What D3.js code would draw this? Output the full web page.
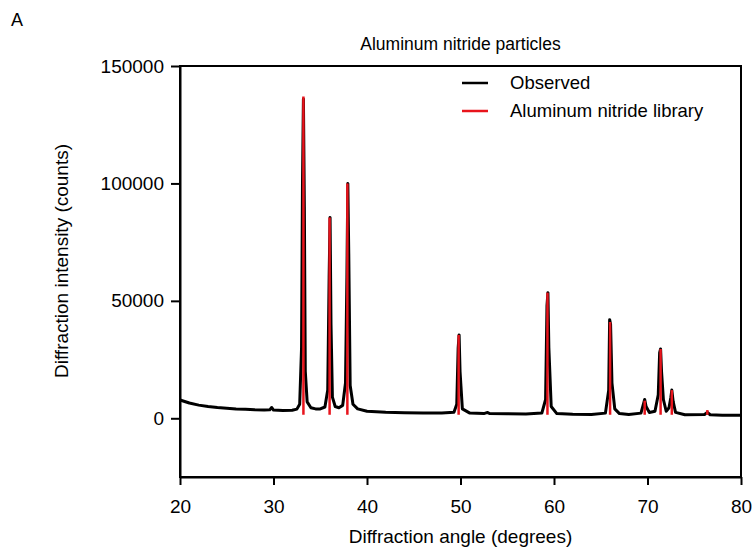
<!DOCTYPE html>
<html>
<head>
<meta charset="utf-8">
<script src="https://cdn.jsdelivr.net/npm/d3@7"></script>
<style>
	body { margin: 0; background: #fff; }
	text { font-family: "Liberation Sans", Arial, sans-serif; fill: #000; }
</style>
</head>
<body>
<div id="chart"></div>
<script>
// Data
const obsAngle = [
	20, 21, 22, 23, 24, 25, 26, 27, 28, 29, 29.6, 29.8, 30, 31, 32, 32.5, 32.8,
	33.0, 33.1, 33.2, 33.3, 33.4, 33.6, 34, 34.5, 35, 35.5, 35.8, 35.95, 36.05, 36.15, 36.3, 36.6,
	37, 37.4, 37.7, 37.85, 37.95, 38.05, 38.2, 38.5, 39, 40, 42, 44, 46, 48,
	49.3, 49.6, 49.75, 49.85, 49.95, 50.2, 51, 52.5, 52.9, 53.1, 55, 57,
	58.7, 59.1, 59.25, 59.35, 59.45, 59.7, 60.3, 62, 64,
	65.5, 65.85, 65.95, 66.05, 66.2, 66.5, 67, 68,
	69.3, 69.6, 69.7, 69.85, 70.2, 70.8, 71.15, 71.3, 71.4, 71.5, 71.7, 72.0,
	72.3, 72.5, 72.6, 72.75, 73, 74, 76.1, 76.4, 76.7, 78, 80
]
const obsCounts = [
	7800, 6500, 5600, 5000, 4600, 4300, 4000, 3800, 3600, 3500, 3600, 4600, 3500, 3300, 3400, 3900, 6000,
	30000, 100000, 136000, 90000, 20000, 7000, 4500, 4000, 4000, 4800, 12000, 60000, 85500, 40000, 9000, 5000,
	4500, 5500, 15000, 60000, 100000, 70000, 14000, 6000, 4000, 3000, 2600, 2400, 2300, 2200,
	2600, 6000, 30000, 35500, 20000, 4000, 2200, 2000, 2500, 2000, 1900, 1800,
	2200, 8000, 48000, 53500, 30000, 5000, 2000, 1700, 1600,
	2200, 12000, 42000, 40000, 15000, 4000, 2000, 1600,
	2200, 6500, 8000, 5000, 2500, 3000, 10000, 28000, 29500, 20000, 8000, 3000,
	4500, 9000, 12000, 7000, 2500, 1500, 1600, 2500, 1500, 1300, 1300
]

const libAngle = [33.2, 36.0, 37.9, 49.8, 59.3, 66.0, 69.7, 71.4, 72.6, 76.4]
const libCounts = [137000, 85500, 100000, 35500, 53500, 41000, 7500, 29500, 12000, 3500]

const xTicks = [20, 30, 40, 50, 60, 70, 80]
const yTicks = [0, 50000, 100000, 150000]

const stickFloor = 1500

// Dimensions
let dimensions = {
	width: 756,
	height: 550,
	margin: {
		top: 66,
		bottom: 73,
		left: 180,
		right: 15
	}
}
dimensions.ctrWidth = dimensions.width - dimensions.margin.left - dimensions.margin.right
dimensions.ctrHeight = dimensions.height - dimensions.margin.top - dimensions.margin.bottom

const svg = d3.select('#chart')
	.append('svg')
	.attr('width', dimensions.width)
	.attr('height', dimensions.height)

const ctr = svg.append('g')
	.attr('transform', `translate(${dimensions.margin.left}, ${dimensions.margin.top})`)

// Scales
const xScale = d3.scaleLinear()
	.domain([20, 80])
	.range([0, dimensions.ctrWidth])

const yScale = d3.scaleLinear()
	.domain([-25000, 150000])
	.range([dimensions.ctrHeight, 0])

// Observed line
const obs = obsAngle.map((a, i) => [a, obsCounts[i]])
const line = d3.line()
	.x(d => xScale(d[0]))
	.y(d => yScale(d[1]))

ctr.append('path')
	.datum(obs)
	.attr('d', line)
	.attr('fill', 'none')
	.attr('stroke', '#000')
	.attr('stroke-width', 3)
	.attr('stroke-linejoin', 'round')

// Library sticks
ctr.selectAll('line.lib')
	.data(libAngle)
	.join('line')
	.attr('class', 'lib')
	.attr('x1', d => xScale(d))
	.attr('x2', d => xScale(d))
	.attr('y1', yScale(stickFloor))
	.attr('y2', (d, i) => yScale(libCounts[i]))
	.attr('stroke', '#e8141c')
	.attr('stroke-width', 2.5)

// Frame
ctr.append('rect')
	.attr('width', dimensions.ctrWidth)
	.attr('height', dimensions.ctrHeight)
	.attr('fill', 'none')
	.attr('stroke', '#000')
	.attr('stroke-width', 2)

// Axes
const xAxis = ctr.append('g')
	.attr('transform', `translate(0, ${dimensions.ctrHeight})`)
	.call(d3.axisBottom(xScale).tickValues(xTicks).tickSize(8).tickPadding(15).tickSizeOuter(0))
const yAxis = ctr.append('g')
	.call(d3.axisLeft(yScale).tickValues(yTicks).tickSize(9).tickPadding(7).tickSizeOuter(0).tickFormat(d3.format('d')))

;[xAxis, yAxis].forEach(ax => {
	ax.select('.domain').attr('stroke-width', 2)
	ax.selectAll('.tick line').attr('stroke-width', 2)
	ax.selectAll('.tick text')
		.style('font-family', '"Liberation Sans", Arial, sans-serif')
		.style('font-size', '19px')
		.attr('fill', '#000')
})

// Labels
svg.append('text')
	.attr('x', 11)
	.attr('y', 26)
	.style('font-size', '18px')
	.text('A')

svg.append('text')
	.attr('x', dimensions.margin.left + dimensions.ctrWidth / 2)
	.attr('y', 50)
	.attr('text-anchor', 'middle')
	.style('font-size', '17.5px')
	.text('Aluminum nitride particles')

svg.append('text')
	.attr('x', dimensions.margin.left + dimensions.ctrWidth / 2)
	.attr('y', 543)
	.attr('text-anchor', 'middle')
	.style('font-size', '19px')
	.text('Diffraction angle (degrees)')

svg.append('text')
	.attr('transform', 'translate(68, 261) rotate(-90)')
	.attr('text-anchor', 'middle')
	.style('font-size', '19px')
	.text('Diffraction intensity (counts)')

// Legend
const legend = [['Observed', '#000'], ['Aluminum nitride library', '#e8141c']]
const lg = svg.append('g')
	.selectAll('g')
	.data(legend)
	.join('g')
	.attr('transform', (d, i) => `translate(462, ${83 + i * 28})`)
lg.append('line')
	.attr('x2', 26)
	.attr('stroke', d => d[1])
	.attr('stroke-width', 2.5)
lg.append('text')
	.attr('x', 48)
	.attr('dy', '0.35em')
	.style('font-size', '18.5px')
	.text(d => d[0])
</script>
</body>
</html>
